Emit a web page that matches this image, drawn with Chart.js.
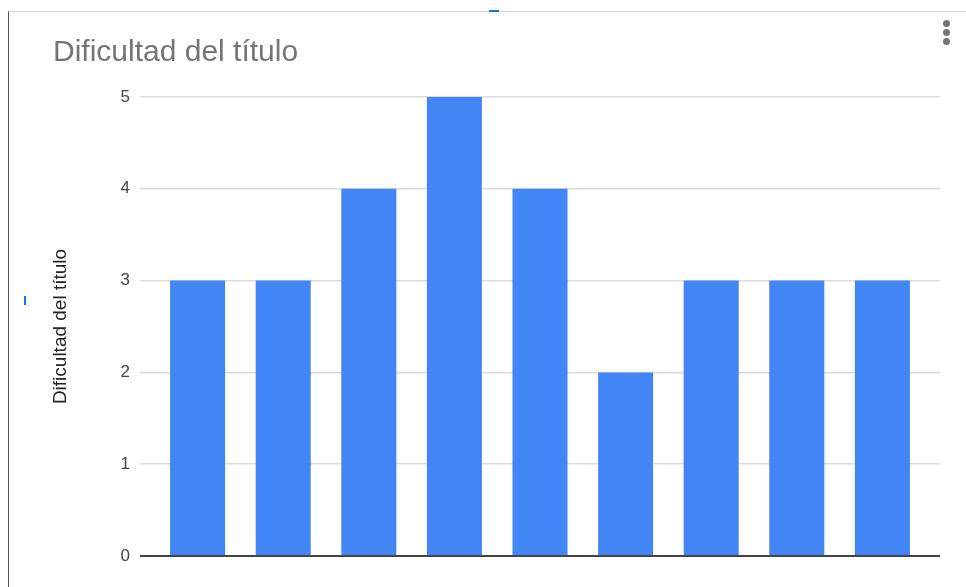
<!DOCTYPE html>
<html>
<head>
<meta charset="utf-8">
<script src="https://cdn.jsdelivr.net/npm/chart.js@4"></script>
<style>
  html, body { margin: 0; padding: 0; background: #fff; }
  #wrap { position: relative; width: 966px; height: 587px; overflow: hidden; }
  #frame { position: absolute; left: 8px; top: 11px; width: 970px; height: 600px;
           border-top: 1px solid #d4d4d4; border-left: 1px solid #555; }
  .mark { position: absolute; background: #1a73e8; }
  .dot { position: absolute; width: 7px; height: 7px; border-radius: 50%; background: #757575; left: 943px; }
  canvas { position: absolute; left: 0; top: 0; }
</style>
</head>
<body>
<div id="wrap">
  <div id="frame"></div>
  <div class="mark" style="left:24px;top:296px;width:2px;height:9px;"></div>
  <div class="mark" style="left:489px;top:10px;width:10px;height:2px;"></div>
  <div class="dot" style="top:20px"></div>
  <div class="dot" style="top:29px"></div>
  <div class="dot" style="top:38px"></div>
  <canvas id="grafico" width="966" height="587"></canvas>
</div>
<script>
const titulo = 'Dificultad del título';
const valores = [3, 3, 4, 5, 4, 2, 3, 3, 3];
const ticksY = [0, 1, 2, 3, 4, 5];

document.addEventListener('DOMContentLoaded', () => {
    const ctx = document.getElementById('grafico').getContext('2d');

    new Chart(ctx, {
        type: 'bar',
        data: {
            datasets: [{
                label: titulo,
                data: valores.map((v, i) => ({ x: i, y: v })),
                backgroundColor: '#4285f4',
                borderWidth: 0,
                barPercentage: 0.643,
                categoryPercentage: 1
            }]
        },
        options: {
            responsive: false,
            animation: false,
            layout: { padding: { left: 53, right: 26, top: 0, bottom: 31 } },
            plugins: {
                legend: { display: false },
                tooltip: { enabled: false },
                title: {
                    display: true,
                    text: titulo,
                    align: 'start',
                    color: '#757575',
                    font: { family: 'Liberation Sans, Arial', size: 30, weight: 'normal' },
                    padding: { top: 35, bottom: 26 }
                }
            },
            scales: {
                x: {
                    type: 'linear',
                    display: false,
                    offset: false,
                    min: -0.673,
                    max: 8.673,
                    ticks: { stepSize: 1, includeBounds: false }
                },
                y: {
                    min: 0,
                    max: 5,
                    afterFit: s => { s.width = 87; },
                    afterBuildTicks: s => { s.ticks = ticksY.map(v => ({ value: v })); },
                    border: { display: false },
                    grid: {
                        drawTicks: false,
                        color: c => c.tick && c.tick.value === 0 ? '#444' : '#dcdcdc',
                        lineWidth: c => c.tick && c.tick.value === 0 ? 2 : 1.5
                    },
                    ticks: {
                        color: '#444',
                        padding: 10,
                        font: { family: 'Liberation Sans, Arial', size: 17 }
                    },
                    title: {
                        display: true,
                        text: titulo,
                        color: '#222',
                        font: { family: 'Liberation Sans, Arial', size: 19 },
                        padding: { top: -4, bottom: 0 }
                    }
                }
            }
        }
    });
});
</script>
</body>
</html>
